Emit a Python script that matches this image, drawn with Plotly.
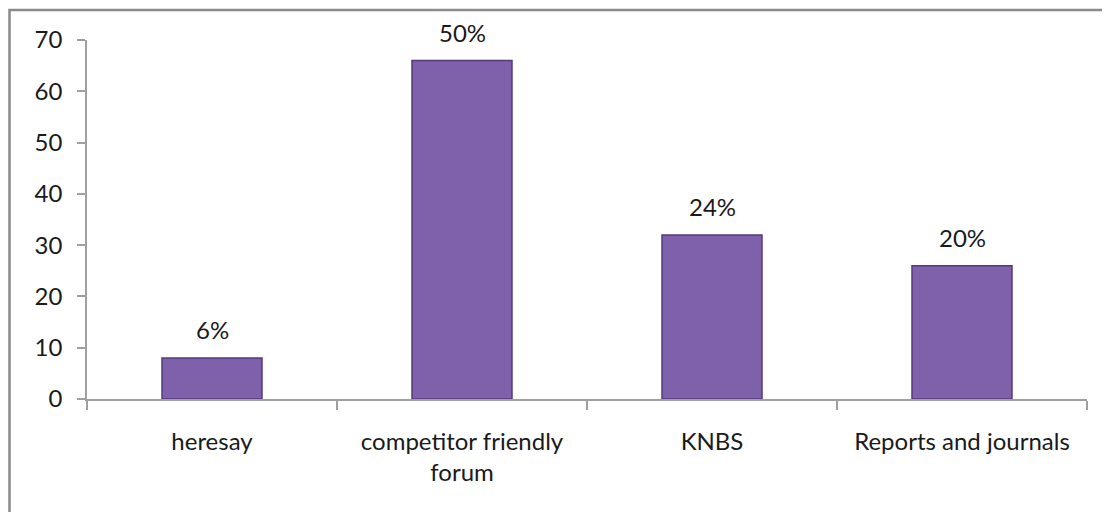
import plotly.graph_objects as go

categories = ["heresay", "competitor friendly<br>forum", "KNBS", "Reports and journals"]
values = [8, 66, 32, 26]
pct_labels = ["6%", "50%", "24%", "20%"]
y_ticks = [0, 10, 20, 30, 40, 50, 60, 70]

FONT = "Lato"
FS = 24
fig = go.Figure()
fig.add_trace(go.Bar(
    x=categories, y=values, width=0.4,
    marker=dict(color="#7f60aa", line=dict(color="#563a7e", width=1.5)),
    hoverinfo="skip",
))
for c, v, t in zip(categories, values, pct_labels):
    fig.add_annotation(x=c, y=v, text=t, showarrow=False, yanchor="bottom",
                       yshift=12, font=dict(family=FONT, size=FS, color="#1a1a1a"))

fig.add_shape(type="rect", xref="paper", yref="paper",
              x0=-0.0775, x1=1.06, y0=-0.6, y1=1.0836,
              line=dict(color="#8a8a8a", width=2.5), layer="below")

fig.update_layout(
    width=1110, height=512,
    margin=dict(l=79, r=31, t=32, b=121),
    paper_bgcolor="white", plot_bgcolor="white",
    showlegend=False,
    font=dict(family=FONT, size=FS, color="#1a1a1a"),
    bargap=0.6,
)
fig.update_xaxes(
    type="category", showline=True, linecolor="#a0a0a0", linewidth=1.5,
    ticks="outside", tickson="boundaries", ticklen=9, tickcolor="#a0a0a0",
    tickwidth=1.5, showgrid=False, ticklabelstandoff=20,
    tickfont=dict(family=FONT, size=FS, color="#1a1a1a"),
)
fig.update_yaxes(
    range=[0, 70], tickvals=y_ticks, showline=True, linecolor="#a0a0a0",
    linewidth=1.5, ticks="outside", ticklen=8, tickcolor="#a0a0a0", tickwidth=1.5,
    showgrid=False, zeroline=False, ticklabelstandoff=10,
    tickfont=dict(family=FONT, size=FS, color="#1a1a1a"),
)
fig.write_html("out.html")
